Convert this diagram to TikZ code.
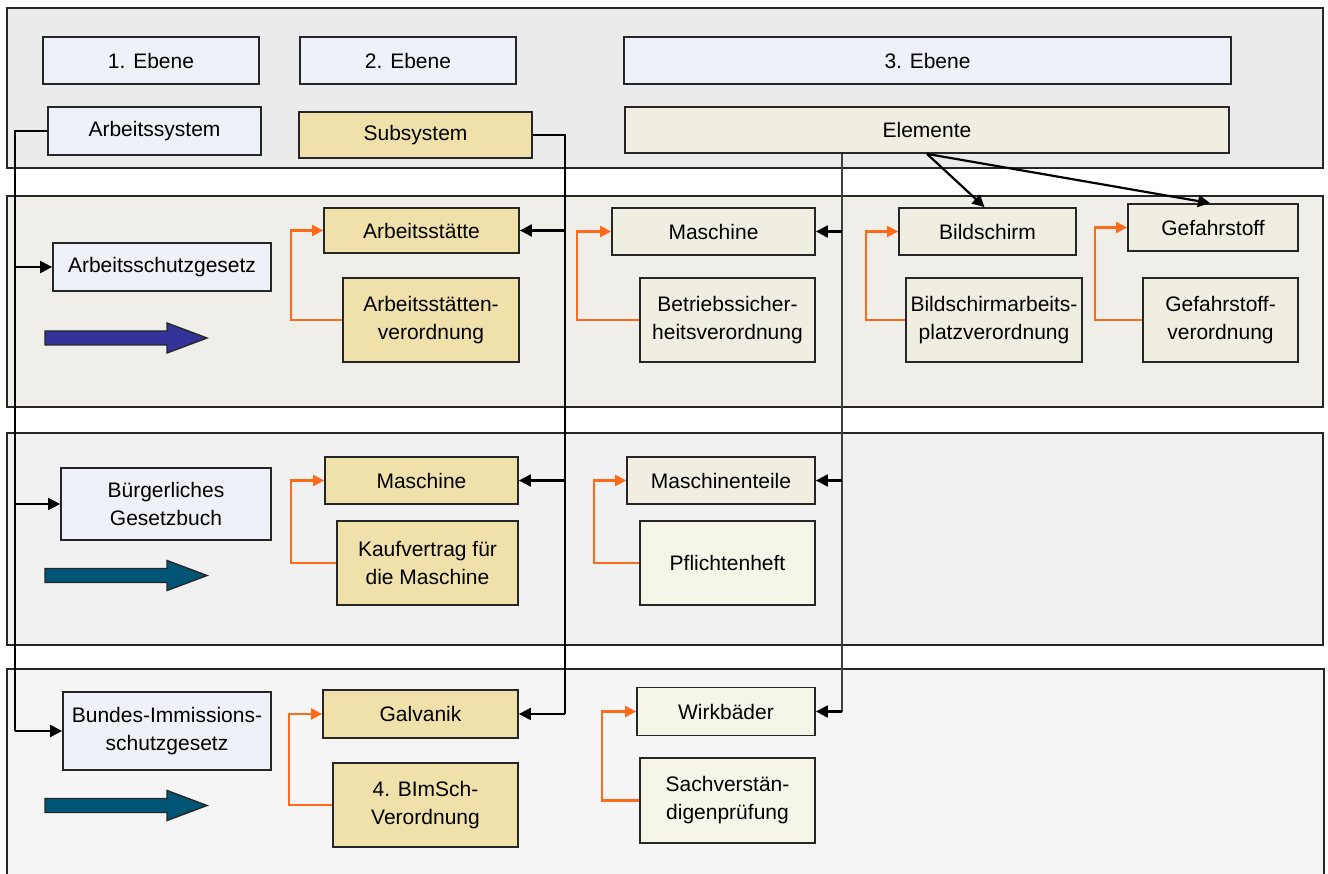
\documentclass[tikz,border=0pt]{standalone}
\usepackage{fontspec}
\setmainfont{Liberation Sans}
\usetikzlibrary{arrows.meta,calc}

\definecolor{paneltop}{HTML}{EBEBEB}
\definecolor{panelA}{HTML}{EFEEE9}
\definecolor{panelB}{HTML}{F1F1F1}
\definecolor{panelC}{HTML}{F5F5F5}
\definecolor{lawfill}{HTML}{EEF1F7}
\definecolor{subfill}{HTML}{F0E1AA}
\definecolor{elemfill}{HTML}{EFEEE0}
\definecolor{elemlight}{HTML}{F5F5E8}
\definecolor{boxline}{HTML}{262626}
\definecolor{linkorange}{HTML}{FF6A1A}
\definecolor{arrowblue}{HTML}{333399}
\definecolor{arrowteal}{HTML}{005577}

\begin{document}
\begin{tikzpicture}[x=1pt,y=-1pt,
  panel/.style={draw=boxline, line width=2.2pt},
  box/.style={draw=boxline, line width=1.8pt, inner sep=0pt, align=center,
    text=black, font=\fontsize{21}{28}\selectfont},
  sz/.style 2 args={minimum width=#1pt, minimum height=#2pt},
  law/.style={box, fill=lawfill},
  sub/.style={box, fill=subfill},
  elem/.style={box, fill=elemfill},
  bus/.style={draw=black, line width=2.2pt, -{Triangle[length=12pt,width=12pt]}},
  busline/.style={draw=black, line width=2.2pt},
  ebus/.style={draw=black!75, line width=1.2pt},
  ebusarrow/.style={draw=black, line width=2.2pt, -{Triangle[length=12pt,width=12pt]}},
  olink/.style={draw=linkorange, line width=2.2pt, -{Triangle[length=11pt,width=11pt]}},
  pics/bigarrow/.style={code={
    \draw[line width=1.4pt, draw=black!85, fill=#1]
      (0,-7) -- (122,-7) -- (122,-15) -- (162,0) -- (122,15) -- (122,7) -- (0,7) -- cycle;}}
]
\useasboundingbox (0,0) rectangle (1328,874);

% four horizontal bands
\draw[panel, fill=paneltop] (7,8) rectangle (1323,168);
\draw[panel, fill=panelA] (7,196) rectangle (1323,407);
\draw[panel, fill=panelB] (7,433) rectangle (1323,645);
\draw[panel, fill=panelC] (7,669) rectangle (1324,890);

% level headings
\node[law, sz={216}{47}] (lvl1) at (151,60.5) {1. Ebene};
\node[law, sz={216}{47}] (lvl2) at (408,60.5) {2. Ebene};
\node[law, sz={607}{47}] (lvl3) at (927.5,60.5) {3. Ebene};

\node[law, sz={213}{48}] (sys) at (154.5,131) {Arbeitssystem};
\node[sub, sz={233}{46}] (subsys) at (415.5,135) {Subsystem};
\node[elem, sz={604}{46}] (elems) at (927,130) {Elemente};

% band 1
\node[law, sz={218}{48}] (asg) at (162,267) {Arbeitsschutzgesetz};
\node[sub, sz={195}{45}] (ast) at (421.5,230.5) {Arbeitsstätte};
\node[sub, sz={176}{84}] (astv) at (431,320) {Arbeitsstätten-\\verordnung};
\node[elem, sz={203}{47}] (masch1) at (713.5,231.5) {Maschine};
\node[elem, sz={175}{84}] (bsv) at (727.5,320) {Betriebssicher-\\heitsverordnung};
\node[elem, sz={177}{47}] (bs) at (987.5,231.5) {Bildschirm};
\node[elem, sz={176}{84}] (bsav) at (994,320) {Bildschirmarbeits-\\platzverordnung};
\node[elem, sz={170}{47}] (gs) at (1213,227.5) {Gefahrstoff};
\node[elem, sz={155}{84}] (gsv) at (1220.5,320) {Gefahrstoff-\\verordnung};
\pic at (45,338) {bigarrow=arrowblue};

% band 2
\node[law, sz={210}{72}] (bgb) at (166,504) {Bürgerliches\\Gesetzbuch};
\node[sub, sz={193}{47}] (masch2) at (421.5,480.5) {Maschine};
\node[sub, sz={181}{84}] (kauf) at (427.5,563) {Kaufvertrag für\\die Maschine};
\node[elem, sz={188}{47}] (mteile) at (721,480.5) {Maschinenteile};
\node[box, fill=elemlight, sz={175}{84}] (pflicht) at (727.5,563) {Pflichtenheft};
\pic at (45,575.5) {bigarrow=arrowteal};

% band 3
\node[law, sz={208}{78}] (bimsg) at (167,731) {Bundes-Immissions-\\schutzgesetz};
\node[sub, sz={195}{48}] (galv) at (420.5,714) {Galvanik};
\node[sub, sz={185}{84}] (bimv) at (425.5,805) {4. BImSch-\\Verordnung};
\node[box, fill=elemlight, sz={178}{48}] (wirk) at (726,711.5) {Wirkbäder};
\node[box, fill=elemlight, sz={175}{85}] (sachv) at (727.5,800.5) {Sachverstän-\\digenprüfung};
\pic at (45,805.5) {bigarrow=arrowteal};

% distribution lines
\coordinate (busL) at (15,0);
\coordinate (busS) at (565,0);
\coordinate (busE) at (842,0);

\draw[busline] (sys.west) -- (sys.west -| busL) -- (bimsg.west -| busL);
\draw[bus] (asg.west -| busL) -- (asg.west);
\draw[bus] (bgb.west -| busL) -- (bgb.west);
\draw[bus] (bimsg.west -| busL) -- (bimsg.west);

\draw[busline] (subsys.east) -- (subsys.east -| busS) -- (galv.east -| busS);
\draw[bus] (ast.east -| busS) -- (ast.east);
\draw[bus] (masch2.east -| busS) -- (masch2.east);
\draw[bus] (galv.east -| busS) -- (galv.east);

\draw[ebus] (elems.south -| busE) -- (wirk.east -| busE);
\draw[ebusarrow] (masch1.east -| busE) -- (masch1.east);
\draw[ebusarrow] (mteile.east -| busE) -- (mteile.east);
\draw[ebusarrow] (wirk.east -| busE) -- (wirk.east);

\draw[bus] (elems.south) -- ($(bs.north)+(-3,0)$);
\draw[bus] (elems.south) -- ($(gs.north)+(-3,0)$);

% regulation links
\draw[olink] (astv.west) -- ++(-51,0) |- (ast.west);
\draw[olink] (bsv.west) -- ++(-62,0) |- (masch1.west);
\draw[olink] (bsav.west) -- ++(-39,0) |- (bs.west);
\draw[olink] (gsv.west) -- ++(-47,0) |- (gs.west);
\draw[olink] (kauf.west) -- ++(-45,0) |- (masch2.west);
\draw[olink] (pflicht.west) -- ++(-45,0) |- (mteile.west);
\draw[olink] (bimv.west) -- ++(-43,0) |- (galv.west);
\draw[olink] (sachv.west) -- ++(-37,0) |- (wirk.west);
\end{tikzpicture}
\end{document}
